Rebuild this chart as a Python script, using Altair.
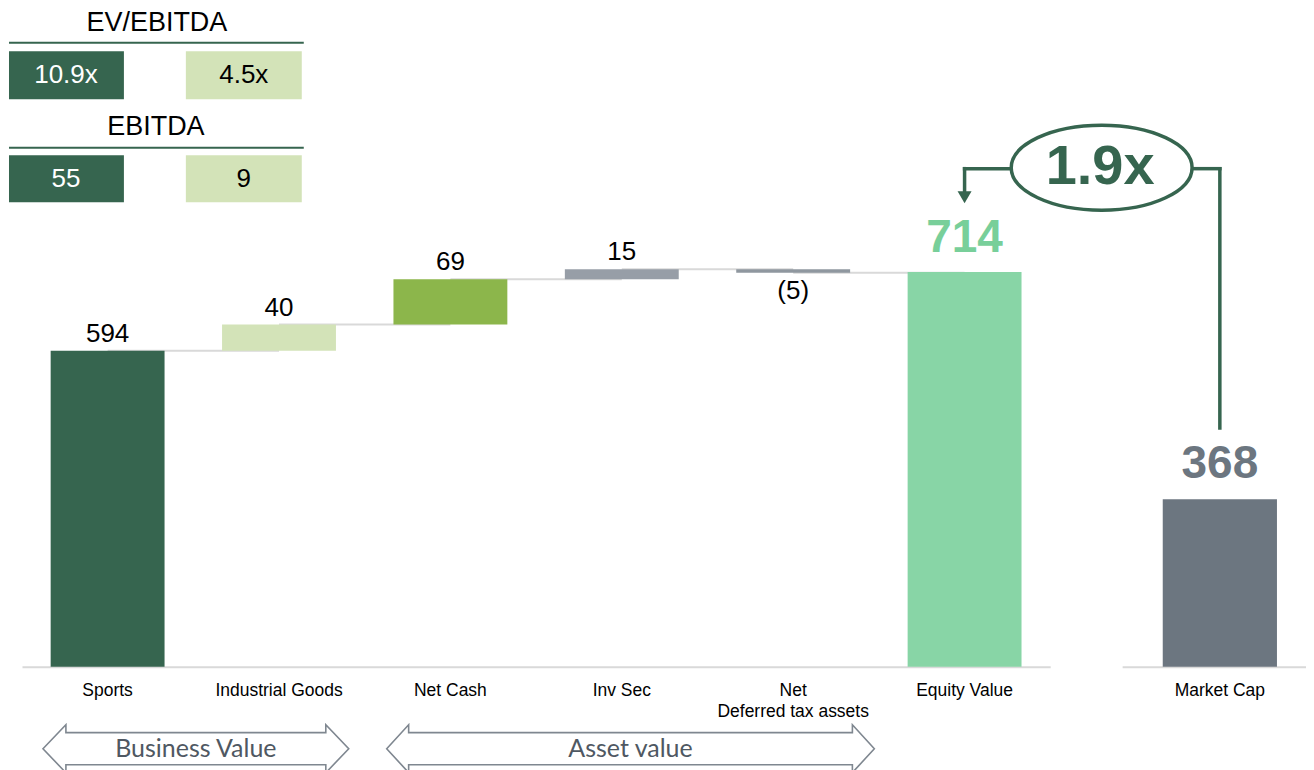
import altair as alt
import pandas as pd

# ---------------- data ----------------
categories = ["Sports", "Industrial Goods", "Net Cash", "Inv Sec",
              "Net Deferred tax assets", "Equity Value"]
values = [594, 40, 69, 15, -5, 714]
bar_colors = ["#36654f", "#d3e3b8", "#8cb64b", "#979ea7", "#8f979f", "#88d5a6"]

market_category = ["Market Cap"]
market_values = [368]
multiple_label = "1.9x"

ev_ebitda_labels = ["10.9x", "4.5x"]
ebitda_labels = ["55", "9"]
segment_labels = ["Business Value", "Asset value"]

# ---------------- derived table ----------------
starts, ends, kinds = [], [], []
running = 0
for i, v in enumerate(values):
    if i == 0:
        starts.append(0); ends.append(v); running = v; kinds.append("pos")
    elif i == len(values) - 1:
        starts.append(0); ends.append(v); kinds.append("total")
    else:
        starts.append(running); running += v; ends.append(running)
        kinds.append("neg" if v < 0 else "pos")
labels = [f"({abs(v)})" if v < 0 else f"{v}" for v in values]
df = pd.DataFrame({"cat": categories, "start": starts, "end": ends,
                   "label": labels, "color": bar_colors, "kind": kinds})
df["top"] = df[["start", "end"]].max(axis=1)
df["bottom"] = df[["start", "end"]].min(axis=1)

conn = pd.DataFrame({"cat": categories[:-1], "next": categories[1:],
                     "level": ends[:-1]})

mdf = pd.DataFrame({"cat": market_category, "value": market_values,
                    "start": [0] * len(market_values),
                    "label": [str(v) for v in market_values]})
ann = pd.DataFrame({"cat": [categories[-1]]})
one = pd.DataFrame({"k": [0]})

# ---------------- styles ----------------
FONT = "Liberation Sans"
DARK = "#36654f"
LIGHT = "#d3e3b8"
GRID = "#d9d9d9"
W_LEFT, W_RIGHT, H = 1029, 184, 659

yscale = alt.Scale(domain=[112.7, 1115.6], clamp=True, nice=False, zero=False)
xaxis = alt.Axis(title=None, domainColor=GRID, domainWidth=2, ticks=False,
                 labelFont=FONT, labelFontSize=17.5, labelColor="#000000",
                 labelPadding=15, labelAngle=0, labelLineHeight=21, labelLimit=400,
                 labelExpr="datum.label == 'Net Deferred tax assets' ? ['Net', 'Deferred tax assets'] : datum.label")
xs = alt.Scale(domain=categories, paddingInner=0.3355, paddingOuter=0.1673)
X = alt.X("cat:N", scale=xs, axis=xaxis, title=None)


def vrect(x1, x2, y1, y2, color):
    return alt.Chart(one).mark_rect(color=color).encode(
        x=alt.value(x1), x2=alt.value(x2), y=alt.value(y1), y2=alt.value(y2))


def vtext(text, x, y, size, color, weight="normal", font=FONT):
    return alt.Chart(one).mark_text(text=text, font=font, fontSize=size, color=color,
                                    fontWeight=weight, align="center",
                                    baseline="middle").encode(
        x=alt.value(x), y=alt.value(y))


def vrule(x1, x2, y1, y2, color, width):
    return alt.Chart(one).mark_rule(color=color, strokeWidth=width).encode(
        x=alt.value(x1), x2=alt.value(x2), y=alt.value(y1), y2=alt.value(y2))


# ---------------- left (waterfall) ----------------
connectors = alt.Chart(conn).mark_rule(color=GRID, strokeWidth=2).encode(
    x=X, x2="next:N", y=alt.Y("level:Q", scale=yscale, axis=None))

bars = alt.Chart(df).mark_bar().encode(
    x=X, y=alt.Y("end:Q", scale=yscale, axis=None), y2="start:Q",
    color=alt.Color("color:N", scale=None))

pos_labels = alt.Chart(df).transform_filter("datum.kind == 'pos'").mark_text(
    font=FONT, fontSize=26, color="#000000", baseline="middle", dy=-17).encode(
    x=X, y=alt.Y("top:Q", scale=yscale, axis=None), text="label:N")

neg_labels = alt.Chart(df).transform_filter("datum.kind == 'neg'").mark_text(
    font=FONT, fontSize=26, color="#000000", baseline="middle", dy=18).encode(
    x=X, y=alt.Y("bottom:Q", scale=yscale, axis=None), text="label:N")

tot_labels = alt.Chart(df).transform_filter("datum.kind == 'total'").mark_text(
    font=FONT, fontSize=46, fontWeight="bold", color="#78cf9a",
    baseline="middle", dy=-34).encode(
    x=X, y=alt.Y("top:Q", scale=yscale, axis=None), text="label:N")

# tables (top-left)
tables = [
    vtext("EV/EBITDA", 135, 15, 27, "#000000"),
    vrule(-13, 282, 34.5, 34.5, DARK, 2),
    vrect(-13, 102, 43, 91, DARK),
    vrect(164, 280, 43, 91, LIGHT),
    vtext(ev_ebitda_labels[0], 44, 67, 26, "#ffffff"),
    vtext(ev_ebitda_labels[1], 222, 67, 26, "#000000"),
    vtext("EBITDA", 134, 119, 27, "#000000"),
    vrule(-13, 282, 139.5, 139.5, DARK, 2),
    vrect(-13, 102, 147, 194, DARK),
    vrect(164, 280, 147, 194, LIGHT),
    vtext(ebitda_labels[0], 44, 171, 26, "#ffffff"),
    vtext(ebitda_labels[1], 222, 171, 26, "#000000"),
]

# arrow into Equity Value
ev_h = alt.Chart(ann).mark_rule(color=DARK, strokeWidth=3.5, strokeCap="square").encode(
    x=X, x2=alt.value(990), y=alt.value(160.5))
ev_v = alt.Chart(ann).mark_rule(color=DARK, strokeWidth=3.5, strokeCap="square").encode(
    x=X, y=alt.value(160.5), y2=alt.value(183))
ev_head = alt.Chart(ann).mark_point(
    shape="M -1 -0.86 L 1 -0.86 L 0 0.86 Z", size=196, filled=True,
    color=DARK, opacity=1).encode(x=X, y=alt.value(189))

# bottom double arrows
ARROW_GRAY = "#7f8790"
arrow1 = alt.Chart(one).mark_point(
    shape="M -1 0 L -0.85 -0.157 L -0.85 -0.105 L 0.85 -0.105 L 0.85 -0.157 L 1 0 "
          "L 0.85 0.157 L 0.85 0.105 L -0.85 0.105 L -0.85 0.157 Z",
    size=306 ** 2, filled=True, fill="#ffffff", stroke=ARROW_GRAY, strokeWidth=1.6,
    opacity=1).encode(x=alt.value(174), y=alt.value(741))
arrow2 = alt.Chart(one).mark_point(
    shape="M -1 0 L -0.91 -0.098 L -0.91 -0.066 L 0.91 -0.066 L 0.91 -0.098 L 1 0 "
          "L 0.91 0.098 L 0.91 0.066 L -0.91 0.066 L -0.91 0.098 Z",
    size=488 ** 2, filled=True, fill="#ffffff", stroke=ARROW_GRAY, strokeWidth=1.6,
    opacity=1).encode(x=alt.value(609), y=alt.value(741))
seg1 = vtext(segment_labels[0], 174, 741, 25, "#4f5862", font="Lato")
seg2 = vtext(segment_labels[1], 609, 741, 25, "#4f5862", font="Lato")

left = alt.layer(connectors, bars, pos_labels, neg_labels, tot_labels,
                 *tables, ev_h, ev_v, ev_head, arrow1, arrow2, seg1, seg2
                 ).properties(width=W_LEFT, height=H)

# ---------------- right (market cap) ----------------
xs2 = alt.Scale(domain=market_category, paddingInner=0.3355,
                paddingOuter=0.2026, align=0.583)
X2 = alt.X("cat:N", scale=xs2, axis=xaxis, title=None)

mbar = alt.Chart(mdf).mark_bar(color="#6c7680").encode(
    x=X2, y=alt.Y("value:Q", scale=yscale, axis=None), y2="start:Q")
mlabel = alt.Chart(mdf).mark_text(
    font=FONT, fontSize=46, fontWeight="bold", color="#6c7680",
    baseline="middle", dy=-35).encode(
    x=X2, y=alt.Y("value:Q", scale=yscale, axis=None), text="label:N")
m_v = alt.Chart(mdf).mark_rule(color=DARK, strokeWidth=3.5, strokeCap="square").encode(
    x=X2, y=alt.value(160.5), y2=alt.value(420))
m_h = alt.Chart(mdf).mark_rule(color=DARK, strokeWidth=3.5, strokeCap="square").encode(
    x=X2, x2=alt.value(70), y=alt.value(160.5))
ellipse = alt.Chart(one).mark_point(
    shape="M -1 0 A 1 0.47 0 1 1 1 0 A 1 0.47 0 1 1 -1 0 Z",
    size=181 ** 2, filled=True, fill="#ffffff", stroke=DARK, strokeWidth=3.5,
    opacity=1).encode(x=alt.value(-20.5), y=alt.value(159.5))
mult = vtext(multiple_label, -22, 159, 56, DARK, weight="bold")

right = alt.layer(mbar, mlabel, m_v, m_h, ellipse, mult).properties(
    width=W_RIGHT, height=H)

chart = alt.hconcat(left, right, spacing=72, bounds="flush").properties(
    padding={"left": 0, "top": 0, "right": 0, "bottom": 0}
).configure(background="#ffffff").configure_view(strokeWidth=0, stroke="transparent")

chart.save("out.html", embed_options={"renderer": "svg", "actions": False})
